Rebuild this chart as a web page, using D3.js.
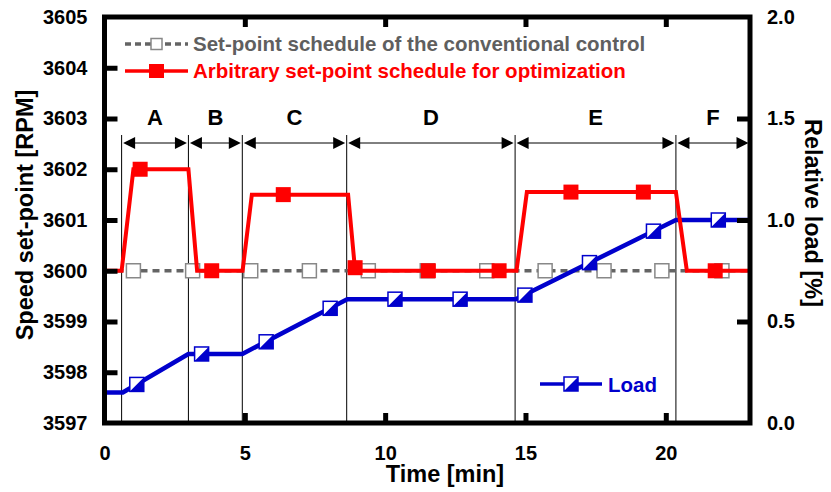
<!DOCTYPE html>
<html>
<head>
<meta charset="utf-8">
<script src="https://cdn.jsdelivr.net/npm/d3@7"></script>
<style>
  body { margin: 0; background: #fff; }
  text { font-family: "Liberation Sans", Arial, sans-serif; font-weight: bold; }
</style>
</head>
<body>
<svg id="chart" width="831" height="492"></svg>
<script>
// section boundaries [min] and their names
const sectionNames = ['A', 'B', 'C', 'D', 'E', 'F']
const sectionBounds = [0.61, 2.99, 4.91, 8.63, 14.63, 20.36, 23]

// conventional control: constant set-point
const convLineTime = [0, 23]
const convLineSpeed = [3600, 3600]
const convMarkTime = [1.03, 3.14, 5.21, 7.30, 9.40, 11.5, 13.62, 15.70, 17.80, 19.86, 22.0]
const convMarkSpeed = [3600, 3600, 3600, 3600, 3600, 3600, 3600, 3600, 3600, 3600, 3600]

// arbitrary set-point schedule
const optLineTime = [0, 0.61, 1.03, 2.99, 3.30, 4.92, 5.25, 8.68, 8.93, 14.68, 15.05, 20.36, 20.75, 23]
const optLineSpeed = [3600, 3600, 3602, 3602, 3600, 3600, 3601.5, 3601.5, 3600, 3600, 3601.55, 3601.55, 3600, 3600]
const optMarkTime = [1.27, 3.82, 6.37, 8.93, 11.54, 14.06, 16.62, 19.2, 21.76]
const optMarkSpeed = [3602, 3600, 3601.5, 3600.06, 3600, 3600, 3601.55, 3601.55, 3600]

// relative load
const loadLineTime = [0, 0.65, 2.99, 4.91, 8.65, 14.65, 20.36, 23]
const loadLineValue = [0.15, 0.15, 0.34, 0.34, 0.61, 0.61, 1.0, 1.0]
const loadMarkTime = [1.15, 3.46, 5.76, 8.04, 10.35, 12.67, 14.98, 17.28, 19.56, 21.87]
const loadMarkValue = [0.19, 0.34, 0.40, 0.565, 0.61, 0.61, 0.63, 0.79, 0.945, 1.0]

const xTicks = [0, 5, 10, 15, 20]
const yTicks = [3597, 3598, 3599, 3600, 3601, 3602, 3603, 3604, 3605]
const y2Ticks = [0, 0.5, 1.0, 1.5, 2.0]

const legendLabels = ['Set-point schedule of the conventional control', 'Arbitrary set-point schedule for optimization']
const loadLabel = 'Load'

const gray = '#646464'
const red = '#ff0000'
const blue = '#0000cc'

const svg = d3.select('#chart')
const pLeft = 104.5, pRight = 750, pTop = 17, pBottom = 423

const x = d3.scaleLinear().domain([0, 23]).range([pLeft, pRight])
const y = d3.scaleLinear().domain([3597, 3605]).range([pBottom, pTop])
const y2 = d3.scaleLinear().domain([0, 2]).range([pBottom, pTop])

const zip = (a, b) => a.map((v, i) => [v, b[i]])

// section separators and arrows
const secG = svg.append('g')
sectionBounds.slice(0, -1).forEach(t => {
  secG.append('line')
    .attr('x1', x(t)).attr('x2', x(t))
    .attr('y1', 135).attr('y2', pBottom)
    .attr('stroke', '#000').attr('stroke-width', 1)
})
const arrowY = 143
sectionNames.forEach((name, i) => {
  const x0 = x(sectionBounds[i]) + 1.5
  const x1 = x(sectionBounds[i + 1]) - 1.5
  secG.append('line')
    .attr('x1', x0 + 6).attr('x2', x1 - 6)
    .attr('y1', arrowY).attr('y2', arrowY)
    .attr('stroke', '#000').attr('stroke-width', 1)
  secG.append('path')
    .attr('d', `M${x0},${arrowY}L${x0 + 12},${arrowY - 6}L${x0 + 12},${arrowY + 6}Z`)
    .attr('fill', '#000')
  secG.append('path')
    .attr('d', `M${x1},${arrowY}L${x1 - 12},${arrowY - 6}L${x1 - 12},${arrowY + 6}Z`)
    .attr('fill', '#000')
  secG.append('text')
    .attr('x', (x0 + x1) / 2).attr('y', 125)
    .attr('text-anchor', 'middle')
    .style('font-size', '22px')
    .text(name)
})

// conventional (gray dashed)
const lineSpeed = d3.line().x(d => x(d[0])).y(d => y(d[1]))
const lineLoad = d3.line().x(d => x(d[0])).y(d => y2(d[1]))

svg.append('path')
  .datum(zip(convLineTime, convLineSpeed))
  .attr('d', lineSpeed)
  .attr('fill', 'none').attr('stroke', gray)
  .attr('stroke-width', 3.5).attr('stroke-dasharray', '7,5')
svg.append('g').selectAll('rect')
  .data(zip(convMarkTime, convMarkSpeed))
  .join('rect')
  .attr('x', d => x(d[0]) - 7).attr('y', d => y(d[1]) - 7)
  .attr('width', 14).attr('height', 14)
  .attr('fill', '#fff').attr('stroke', '#888').attr('stroke-width', 1.5)

// load (blue)
function loadMarker(g, cx, cy, s) {
  g.append('rect')
    .attr('x', cx - s / 2).attr('y', cy - s / 2)
    .attr('width', s).attr('height', s)
    .attr('fill', '#fff').attr('stroke', blue).attr('stroke-width', 1.5)
  g.append('path')
    .attr('d', `M${cx - s / 2},${cy + s / 2}L${cx + s / 2},${cy - s / 2}L${cx + s / 2},${cy + s / 2}Z`)
    .attr('fill', blue)
}
svg.append('path')
  .datum(zip(loadLineTime, loadLineValue))
  .attr('d', lineLoad)
  .attr('fill', 'none').attr('stroke', blue)
  .attr('stroke-width', 4.5).attr('stroke-linejoin', 'round')
const loadG = svg.append('g')
zip(loadMarkTime, loadMarkValue).forEach(d => loadMarker(loadG, x(d[0]), y2(d[1]), 14))

// optimization (red)
svg.append('path')
  .datum(zip(optLineTime, optLineSpeed))
  .attr('d', lineSpeed)
  .attr('fill', 'none').attr('stroke', red)
  .attr('stroke-width', 4)
svg.append('g').selectAll('rect')
  .data(zip(optMarkTime, optMarkSpeed))
  .join('rect')
  .attr('x', d => x(d[0]) - 7.5).attr('y', d => y(d[1]) - 7.5)
  .attr('width', 15).attr('height', 15)
  .attr('fill', red)

// axes
const axisStyle = g => {
  g.select('.domain').remove()
  g.selectAll('.tick line').attr('stroke', '#000').attr('stroke-width', 5)
  g.selectAll('.tick text').attr('fill', '#000').style('font-size', '20px')
    .style('font-family', '"Liberation Sans", Arial, sans-serif').style('font-weight', 'bold')
}
svg.append('g')
  .attr('transform', `translate(${pLeft},0)`)
  .call(d3.axisLeft(y).tickValues(yTicks).tickSize(-13).tickPadding(17).tickFormat(d3.format('d')))
  .call(axisStyle)
  .call(g => g.selectAll('.tick').filter(d => d === 3597 || d === 3605).select('line').remove())

svg.append('g')
  .attr('transform', `translate(${pRight},0)`)
  .call(d3.axisRight(y2).tickValues(y2Ticks).tickSize(-13).tickPadding(17).tickFormat(d3.format('.1f')))
  .call(axisStyle)
  .call(g => g.selectAll('.tick').filter(d => d === 0 || d === 2).select('line').remove())

svg.append('g')
  .attr('transform', `translate(0,${pBottom})`)
  .call(d3.axisBottom(x).tickValues(xTicks).tickSize(-10).tickPadding(23))
  .call(axisStyle)
  .call(g => g.selectAll('.tick').filter(d => d === 0).select('line').remove())

svg.append('g')
  .attr('transform', `translate(0,${pTop})`)
  .call(d3.axisTop(x).tickValues(xTicks.slice(1)).tickSize(-10).tickFormat(''))
  .call(axisStyle)

// frame
svg.append('rect')
  .attr('x', pLeft).attr('y', pTop)
  .attr('width', pRight - pLeft).attr('height', pBottom - pTop)
  .attr('fill', 'none').attr('stroke', '#000').attr('stroke-width', 5)

// axis titles
svg.append('text')
  .attr('transform', `translate(33,215) rotate(-90)`)
  .attr('text-anchor', 'middle')
  .style('font-size', '23.5px')
  .text('Speed set-point [RPM]')
svg.append('text')
  .attr('transform', `translate(805,213) rotate(90)`)
  .attr('text-anchor', 'middle')
  .style('font-size', '23.5px')
  .text('Relative load [%]')
svg.append('text')
  .attr('x', 445).attr('y', 482)
  .attr('text-anchor', 'middle')
  .style('font-size', '23.5px')
  .text('Time [min]')

// legend
const lg = svg.append('g')
lg.append('line')
  .attr('x1', 125).attr('x2', 188).attr('y1', 44).attr('y2', 44)
  .attr('stroke', gray).attr('stroke-width', 3.5).attr('stroke-dasharray', '6,4')
lg.append('rect')
  .attr('x', 151).attr('y', 38.5).attr('width', 11).attr('height', 11)
  .attr('fill', '#fff').attr('stroke', '#888').attr('stroke-width', 1.5)
lg.append('text')
  .attr('x', 193).attr('y', 51)
  .attr('fill', '#5f5f5f').style('font-size', '20.5px')
  .text(legendLabels[0])

lg.append('line')
  .attr('x1', 125).attr('x2', 188).attr('y1', 71).attr('y2', 71)
  .attr('stroke', red).attr('stroke-width', 3.5)
lg.append('rect')
  .attr('x', 149).attr('y', 64).attr('width', 15).attr('height', 14)
  .attr('fill', red)
lg.append('text')
  .attr('x', 193).attr('y', 78)
  .attr('fill', red).style('font-size', '20.5px')
  .text(legendLabels[1])

lg.append('line')
  .attr('x1', 540).attr('x2', 602).attr('y1', 384).attr('y2', 384)
  .attr('stroke', blue).attr('stroke-width', 3.5)
loadMarker(lg, 571, 384, 14)
lg.append('text')
  .attr('x', 608).attr('y', 392)
  .attr('fill', blue).style('font-size', '20.5px')
  .text(loadLabel)
</script>
</body>
</html>
